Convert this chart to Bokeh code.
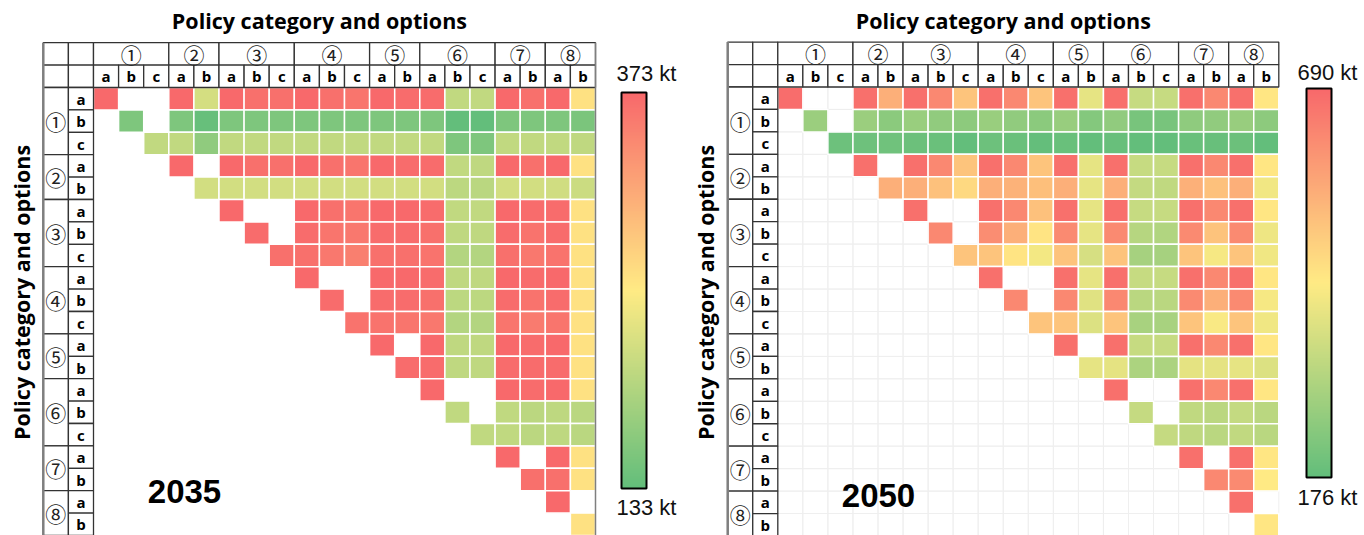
import math

from bokeh.core.properties import value
from bokeh.embed import file_html
from bokeh.layouts import row
from bokeh.models import (ColorBar, ColumnDataSource, FixedTicker, Label,
                          LinearColorMapper, Range1d)
from bokeh.plotting import figure
from bokeh.resources import INLINE
from bokeh.transform import transform

# ---------------------------------------------------------------- data
category_marks = ["①", "②", "③", "④", "⑤", "⑥", "⑦", "⑧"]
category_sizes = [3, 2, 3, 3, 2, 3, 2, 2]
option_letters = ["a", "b", "c", "a", "b", "a", "b", "c", "a", "b", "c",
                  "a", "b", "a", "b", "c", "a", "b", "a", "b"]

# emissions (kt) for each pair of options; each row starts at its diagonal,
# None = pair not combined
y2035_1a = [373, None, None, 373, 220, 373, 366, 366, 373, 366, 361, 373, 370, 370, 206, 206, 373, 366, 373, 262]
y2035_1b = [154, None, 154, 136, 154, 154, 154, 154, 154, 154, 154, 154, 154, 133, 133, 154, 154, 154, 152]
y2035_1c = [206, 206, 168, 206, 206, 206, 206, 206, 206, 206, 206, 206, 154, 154, 206, 206, 206, 204]
y2035_2a = [373, None, 373, 366, 366, 373, 366, 361, 373, 370, 370, 206, 204, 373, 366, 373, 262]
y2035_2b = [219, 219, 219, 219, 219, 219, 219, 219, 219, 219, 202, 200, 219, 219, 217, 213]
y2035_3a = [373, None, None, 373, 366, 361, 373, 373, 370, 206, 206, 373, 370, 370, 262]
y2035_3b = [370, None, 370, 361, 358, 370, 370, 366, 204, 204, 370, 363, 370, 262]
y2035_3c = [366, 366, 358, 352, 366, 366, 363, 194, 194, 366, 358, 363, 262]
y2035_4a = [373, None, None, 373, 373, 370, 204, 204, 373, 370, 373, 262]
y2035_4b = [370, None, 370, 370, 366, 202, 202, 370, 363, 370, 262]
y2035_4c = [363, 363, 361, 358, 194, 194, 361, 356, 361, 262]
y2035_5a = [373, None, 373, 204, 204, 373, 370, 373, 262]
y2035_5b = [370, 370, 204, 204, 370, 370, 370, 262]
y2035_6a = [373, None, None, 373, 370, 373, 262]
y2035_6b = [205, None, 205, 201, 203, 200]
y2035_6c = [205, 205, 201, 203, 200]
y2035_7a = [373, None, 373, 262]
y2035_7b = [366, 366, 262]
y2035_8a = [373, None]
y2035_8b = [262]

y2050_1a = [680, None, None, 675, 551, 675, 628, 510, 675, 628, 510, 675, 392, 675, 340, 340, 675, 628, 675, 443]
y2050_1b = [269, None, 269, 243, 266, 253, 245, 266, 253, 243, 263, 232, 253, 212, 212, 250, 253, 263, 245]
y2050_1c = [193, 195, 200, 191, 190, 176, 193, 189, 180, 187, 176, 185, 178, 176, 187, 185, 191, 178]
y2050_2a = [675, None, 675, 628, 510, 675, 628, 510, 675, 392, 675, 340, 340, 675, 628, 675, 443]
y2050_2b = [551, 551, 517, 469, 551, 545, 520, 551, 392, 551, 335, 330, 549, 517, 551, 410]
y2050_3a = [675, None, None, 675, 628, 517, 675, 392, 675, 340, 340, 675, 628, 675, 443]
y2050_3b = [628, None, 618, 551, 447, 624, 392, 624, 313, 305, 624, 512, 624, 405]
y2050_3c = [510, 510, 447, 413, 512, 366, 512, 287, 287, 510, 418, 510, 407]
y2050_4a = [675, None, None, 675, 392, 675, 340, 340, 675, 628, 675, 443]
y2050_4b = [628, None, 628, 382, 628, 320, 320, 624, 551, 624, 418]
y2050_4c = [510, 510, 376, 510, 290, 290, 510, 423, 510, 407]
y2050_5a = [675, None, 675, 340, 340, 675, 628, 675, 443]
y2050_5b = [392, 390, 297, 297, 390, 390, 392, 376]
y2050_6a = [675, None, None, 675, 628, 675, 443]
y2050_6b = [338, None, 330, 322, 335, 320]
y2050_6c = [338, 328, 320, 332, 317]
y2050_7a = [675, None, 675, 443]
y2050_7b = [628, 624, 433]
y2050_8a = [675, None]
y2050_8b = [443]

rows_2035 = [y2035_1a, y2035_1b, y2035_1c, y2035_2a, y2035_2b, y2035_3a, y2035_3b,
             y2035_3c, y2035_4a, y2035_4b, y2035_4c, y2035_5a, y2035_5b, y2035_6a,
             y2035_6b, y2035_6c, y2035_7a, y2035_7b, y2035_8a, y2035_8b]
rows_2050 = [y2050_1a, y2050_1b, y2050_1c, y2050_2a, y2050_2b, y2050_3a, y2050_3b,
             y2050_3c, y2050_4a, y2050_4b, y2050_4c, y2050_5a, y2050_5b, y2050_6a,
             y2050_6b, y2050_6c, y2050_7a, y2050_7b, y2050_8a, y2050_8b]

scale_2035 = (133, 373)
scale_2050 = (176, 690)

# ---------------------------------------------------------------- styling
W, H = 682, 535
N = len(option_letters)
TITLE = "Policy category and options"
BORDER = "#333333"


def ramp(stops, n=256):
    cols = []
    for i in range(n):
        t = i / (n - 1) * (len(stops) - 1)
        k = min(int(t), len(stops) - 2)
        f = t - k
        a, b = stops[k], stops[k + 1]
        cols.append("#%02x%02x%02x" % tuple(round(a[c] + (b[c] - a[c]) * f) for c in range(3)))
    return cols


PALETTE = ramp([(99, 190, 123), (255, 235, 132), (248, 105, 107)])


def cell_source(rows):
    xs, ys, vs = [], [], []
    for i, r in enumerate(rows):
        for k, v in enumerate(r):
            if v is None:
                continue
            xs.append(i + k + 0.5)
            ys.append(i + 0.5)
            vs.append(v)
    return ColumnDataSource(dict(x=xs, y=ys, v=vs))


def panel(rows, scale, year, g):
    x0, cw, y0, rh = g["x0"], g["cw"], g["y0"], g["rh"]
    p = figure(width=W, height=H,
               x_range=Range1d(-x0 / cw, (W - x0) / cw),
               y_range=Range1d((H - y0) / rh, -y0 / rh),
               x_axis_type=None, y_axis_type=None,
               toolbar_location=None, output_backend="svg",
               min_border=0, outline_line_color=None)
    p.xgrid.visible = False
    p.ygrid.visible = False

    # faint sheet grid behind the matrix
    if g["sheet_grid"]:
        gx = [c + 0.5 for r in range(N) for c in range(N)]
        gy = [r + 0.5 for r in range(N) for c in range(N)]
        p.rect(gx, gy, 1, 1, fill_color=None, line_color="#efefef", line_width=1)

    lo, hi = scale
    mapper = LinearColorMapper(palette=PALETTE, low=lo, high=hi)
    p.rect("x", "y", 1, 1, source=cell_source(rows),
           fill_color=transform("v", mapper), line_color="white", line_width=1.5)

    # header table
    starts = []
    s = 0
    for n in category_sizes:
        starts.append(s)
        s += n
    corner_x = [-1.5, -0.5, -1.5, -0.5]
    corner_y = [-1.5, -1.5, -0.5, -0.5]
    p.rect(corner_x, corner_y, 1, 1, fill_color="white", line_color=BORDER, line_width=1.3)
    cat_c = [st + n / 2 for st, n in zip(starts, category_sizes)]
    p.rect(cat_c, [-1.5] * len(cat_c), category_sizes, 1,
           fill_color="white", line_color=BORDER, line_width=1.3)
    p.rect([-1.5] * len(cat_c), cat_c, 1, category_sizes,
           fill_color="white", line_color=BORDER, line_width=1.3)
    opt_c = [j + 0.5 for j in range(N)]
    p.rect(opt_c, [-0.5] * N, 1, 1, fill_color="white", line_color=BORDER, line_width=1.3)
    p.rect([-0.5] * N, opt_c, 1, 1, fill_color="white", line_color=BORDER, line_width=1.3)
    p.segment(x0=[-2], y0=[-2], x1=[-2], y1=[N + 1], line_color="#7f7f7f", line_width=2.5)
    if g["right_rule"]:
        p.segment(x0=[N], y0=[-2], x1=[N], y1=[N + 1], line_color="#7f7f7f", line_width=1.5)

    circ = dict(text_font=value("Noto Sans CJK JP"), text_font_size="21px",
                text_align="center", text_baseline="middle", text_color="#222222")
    p.text(cat_c, [-1.5] * len(cat_c), text=category_marks, **circ)
    p.text([-1.5] * len(cat_c), cat_c, text=category_marks, **circ)
    let = dict(text_font=value("Open Sans"), text_font_style="bold", text_font_size="15px",
               text_align="center", text_baseline="middle", text_color="black")
    p.text(opt_c, [-0.5] * N, text=option_letters, **let)
    p.text([-0.5] * N, opt_c, text=option_letters, **let)

    # titles
    tx = (g["x0"] - 2 * cw + g["x0"] + N * cw) / 2
    ttl = dict(x_units="screen", y_units="screen", text=TITLE, text_font="Open Sans",
               text_font_style="bold", text_font_size="21.5px", text_color="black",
               text_align="center", text_baseline="middle")
    p.add_layout(Label(x=tx, y=H - 20, **ttl))
    p.add_layout(Label(x=g["ytitle_x"], y=H - 292, angle=math.pi / 2, **ttl))
    p.add_layout(Label(x=g["year_xy"][0], y=H - g["year_xy"][1], x_units="screen",
                       y_units="screen", text=year, text_font="Liberation Sans",
                       text_font_style="bold", text_font_size="33px", text_color="black",
                       text_align="center", text_baseline="middle"))

    # colour scale
    cbx, cby0, cby1 = g["cbar"]
    cb = ColorBar(color_mapper=mapper, location=(cbx, H - cby1), width=25,
                  height=cby1 - cby0, padding=0, margin=0,
                  bar_line_color="black", bar_line_width=2,
                  ticker=FixedTicker(ticks=[]), major_tick_line_color=None,
                  minor_tick_line_color=None, major_label_text_font_size="0px",
                  background_fill_alpha=0, border_line_color=None)
    p.add_layout(cb)
    lab = dict(x_units="screen", y_units="screen", text_font="Liberation Sans",
               text_font_size="22px", text_align="center", text_baseline="middle",
               text_color="#111111")
    p.add_layout(Label(x=g["cbar_lab_x"], y=H - g["cbar_lab_y"][0], text=f"{hi} kt", **lab))
    p.add_layout(Label(x=g["cbar_lab_x"], y=H - g["cbar_lab_y"][1], text=f"{lo} kt", **lab))
    return p


geom_2035 = dict(x0=93.0, cw=25.1, y0=87.0, rh=22.4, sheet_grid=False, right_rule=True,
                 ytitle_x=21, year_xy=(184, 491), cbar=(621, 92, 488),
                 cbar_lab_x=646, cbar_lab_y=(73, 507))
geom_2050 = dict(x0=95.3, cw=25.05, y0=86.5, rh=22.45, sheet_grid=True, right_rule=False,
                 ytitle_x=23, year_xy=(196, 495), cbar=(624, 88, 477),
                 cbar_lab_x=645, cbar_lab_y=(72, 497))

p1 = panel(rows_2035, scale_2035, "2035", geom_2035)
p2 = panel(rows_2050, scale_2050, "2050", geom_2050)

layout = row(p1, p2)
open("out.html", "w").write(file_html(layout, INLINE))
